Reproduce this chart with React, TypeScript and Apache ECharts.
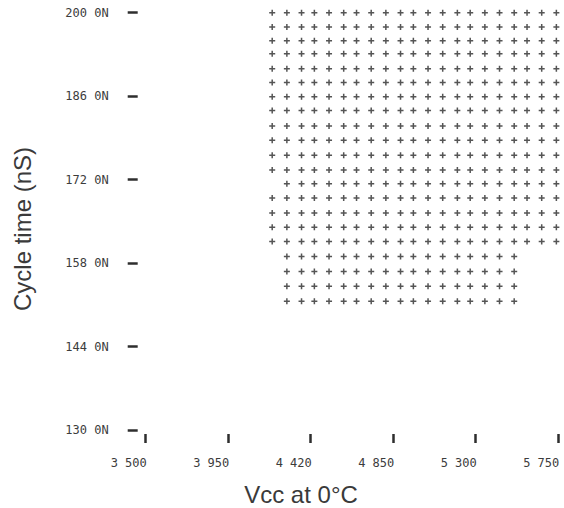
import React, { useEffect, useRef } from "react";
import * as echarts from "echarts";

// Supply voltage columns (V)
const voltages = [4.19, 4.27, 4.35, 4.42, 4.5, 4.58, 4.65, 4.73, 4.81, 4.89, 4.96, 5.04, 5.12, 5.2, 5.27, 5.35, 5.43, 5.51, 5.58, 5.66, 5.74];
// Cycle time rows (nS), top to bottom
const cycleTimes = [200, 197.6, 195.3, 193.1, 190.6, 188.3, 185.9, 183.6, 181.0, 178.6, 176.1, 173.6, 171.3, 168.9, 166.4, 164.0, 161.6, 159.1, 156.6, 154.1, 151.6];
// First / last passing column index per row
const rowFirstCol = [0, 0, 0, 0, 0, 0, 0, 0, 0, 0, 0, 0, 1, 0, 0, 0, 0, 1, 1, 1, 1];
const rowLastCol = [20, 20, 20, 20, 20, 20, 20, 20, 20, 20, 20, 20, 20, 20, 20, 20, 20, 17, 17, 17, 17];

const xTickLabels = ["3 500", "3 950", "4 420", "4 850", "5 300", "5 750"];
const yTickLabels = ["130 0N", "144 0N", "158 0N", "172 0N", "186 0N", "200 0N"];

const X_MIN = 3.5;
const X_STEP = 0.45;
const Y_MIN = 130;
const Y_STEP = 14;

export default function App() {
  const ref = useRef<HTMLDivElement>(null);
  useEffect(() => {
    if (!ref.current) return;
    const chart = echarts.init(ref.current, undefined, { renderer: "svg" });
    const points: number[][] = [];
    cycleTimes.forEach((t, r) => {
      for (let c = rowFirstCol[r]; c <= rowLastCol[r]; c++) {
        points.push([voltages[c] - X_MIN, t - Y_MIN]);
      }
    });
    const tickStyle = { color: "#2e2e2e", width: 2.5 };
    const labelFont = { fontFamily: "DejaVu Sans Mono", fontSize: 12, color: "#3c3c3c" };
    chart.setOption({
      animation: false,
      backgroundColor: "#ffffff",
      grid: { left: 145.7, right: 5.8, top: 12.7, bottom: 78, containLabel: false, outerBoundsMode: "none" },
      xAxis: {
        type: "value",
        min: 0,
        max: X_STEP * 5,
        interval: X_STEP,
        offset: 4,
        axisLine: { show: false, onZero: false },
        splitLine: { show: false },
        axisTick: { show: true, length: 9, lineStyle: tickStyle },
        axisLabel: {
          ...labelFont,
          margin: 23,
          align: "center",
          padding: [0, 34, 0, 0],
          showMinLabel: true,
          showMaxLabel: true,
          formatter: (v: number) => xTickLabels[Math.round(v / X_STEP)] ?? "",
        },
      },
      yAxis: {
        type: "value",
        min: 0,
        max: Y_STEP * 5,
        interval: Y_STEP,
        offset: 8,
        axisLine: { show: false, onZero: false },
        splitLine: { show: false },
        axisTick: { show: true, length: 10, lineStyle: tickStyle },
        axisLabel: {
          ...labelFont,
          margin: 29,
          showMinLabel: true,
          showMaxLabel: true,
          formatter: (v: number) => yTickLabels[Math.round(v / Y_STEP)] ?? "",
        },
      },
      graphic: [
        {
          type: "text",
          x: 22,
          y: 229,
          rotation: Math.PI / 2,
          style: {
            text: "Cycle time (nS)",
            font: "24px 'Liberation Sans', Arial, sans-serif",
            fill: "#3a3a3a",
            align: "center",
            verticalAlign: "middle",
          },
        },
        {
          type: "text",
          x: 301,
          y: 494,
          style: {
            text: "Vcc at 0°C",
            font: "24px 'Liberation Sans', Arial, sans-serif",
            fill: "#3a3a3a",
            align: "center",
            verticalAlign: "middle",
          },
        },
      ],
      series: [
        {
          type: "scatter",
          data: points,
          symbol: "path://M0,3.75H10V6.25H0Z M3.75,0H6.25V10H3.75Z",
          symbolSize: 6,
          itemStyle: { color: "#2a2a2a" },
          silent: true,
        },
      ],
    });
    return () => chart.dispose();
  }, []);
  return (
    <div
      ref={ref}
      style={{ position: "fixed", left: 0, top: 0, width: 564, height: 508, background: "#fff" }}
    />
  );
}
